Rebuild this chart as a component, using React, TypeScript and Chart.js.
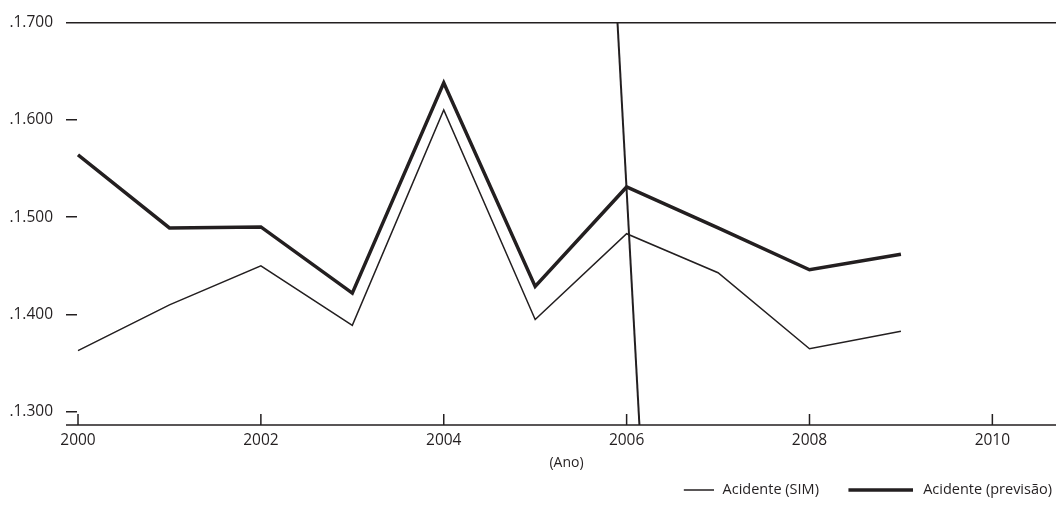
import React, { useEffect, useRef } from "react";
import { Chart, registerables } from "chart.js";

Chart.register(...registerables);

// ---- Data ----
const anos = [2000, 2001, 2002, 2003, 2004, 2005, 2006, 2007, 2008, 2009];
const acidenteSIM = [1.363, 1.410, 1.450, 1.389, 1.610, 1.395, 1.483, 1.443, 1.365, 1.383];
const acidentePrevisao = [1.564, 1.489, 1.490, 1.422, 1.638, 1.429, 1.531, 1.489, 1.446, 1.462];
// slanted reference line (year, value) pairs
const marcoAnos = [2005.9, 2006.14];
const marcoValores = [1.7, 1.2867];

const yTicks = [1.3, 1.4, 1.5, 1.6, 1.7];
const yTickLabels = [".1.300", ".1.400", ".1.500", ".1.600", ".1.700"];
const xTicks = [2000, 2002, 2004, 2006, 2008, 2010];
const xTickLabels = ["2000", "2002", "2004", "2006", "2008", "2010"];
const xTitle = "(Ano)";
const seriesNames = ["Acidente (SIM)", "Acidente (previsão)"];

const INK = "#231f20";

function makeSwatch(width: number, height: number, from: number, lineWidth: number) {
  const c = document.createElement("canvas");
  c.width = width;
  c.height = height;
  const g = c.getContext("2d")!;
  g.strokeStyle = INK;
  g.lineWidth = lineWidth;
  g.beginPath();
  g.moveTo(from, height / 2);
  g.lineTo(width, height / 2);
  g.stroke();
  return c;
}

const axisDecor = {
  id: "axisDecor",
  afterDatasetsDraw(chart: any) {
    const { ctx, chartArea, scales } = chart;
    const xs = scales.x;
    ctx.save();
    ctx.strokeStyle = INK;
    ctx.lineWidth = 1.5;
    ctx.beginPath();
    ctx.moveTo(chartArea.left - 11, chartArea.bottom);
    ctx.lineTo(chartArea.right, chartArea.bottom);
    xs.ticks.forEach((t: any) => {
      const px = xs.getPixelForValue(t.value);
      ctx.moveTo(px, chartArea.bottom);
      ctx.lineTo(px, chartArea.bottom - 11);
    });
    ctx.stroke();
    ctx.restore();
  },
};

export default function App() {
  const ref = useRef<HTMLCanvasElement>(null);

  useEffect(() => {
    if (!ref.current) return;
    Chart.defaults.font.family = "'Open Sans', sans-serif";
    Chart.defaults.color = INK;

    const swatches = [makeSwatch(84, 6, 54, 1.5), makeSwatch(82, 8, 17, 3.5)];

    const chart = new Chart(ref.current, {
      type: "line",
      data: {
        datasets: [
          {
            label: seriesNames[0],
            data: anos.map((a, i) => ({ x: a, y: acidenteSIM[i] })),
            borderColor: INK,
            backgroundColor: INK,
            borderWidth: 1.5,
            pointRadius: 0,
            tension: 0,
          },
          {
            label: seriesNames[1],
            data: anos.map((a, i) => ({ x: a, y: acidentePrevisao[i] })),
            borderColor: INK,
            backgroundColor: INK,
            borderWidth: 3.5,
            pointRadius: 0,
            tension: 0,
          },
          {
            label: "marco",
            data: marcoAnos.map((a, i) => ({ x: a, y: marcoValores[i] })),
            borderColor: INK,
            borderWidth: 2,
            pointRadius: 0,
            tension: 0,
          },
        ],
      },
      options: {
        responsive: false,
        animation: false,
        events: [],
        layout: { padding: { top: 20, left: 0, right: -6, bottom: 9.75 } },
        scales: {
          x: {
            type: "linear",
            min: 1999.989,
            max: 2010.696,
            afterBuildTicks: (s: any) => {
              s.ticks = xTicks.map((v) => ({ value: v }));
            },
            afterFit: (s: any) => {
              s.height = 47.75;
            },
            ticks: {
              padding: 6.7,
              font: { size: 15.5 },
              color: INK,
              maxRotation: 0,
              autoSkip: false,
              callback: (_v: any, i: number) => xTickLabels[i],
            },
            grid: { display: false, drawTicks: false },
            border: { display: false },
            title: {
              display: true,
              text: xTitle,
              color: INK,
              font: { size: 14 },
              padding: { top: 0, bottom: 1.35 },
            },
          },
          y: {
            type: "linear",
            min: 1.2867,
            max: 1.7,
            afterBuildTicks: (s: any) => {
              s.ticks = yTicks.map((v) => ({ value: v }));
            },
            afterFit: (s: any) => {
              s.width = 77;
            },
            ticks: {
              padding: 13,
              font: { size: 15.5 },
              color: INK,
              callback: (_v: any, i: number) => yTickLabels[i],
            },
            grid: {
              drawOnChartArea: true,
              drawTicks: true,
              tickLength: 11,
              tickColor: INK,
              tickWidth: 1.5,
              lineWidth: 1.5,
              color: (c: any) =>
                c.tick && c.tick.value === yTicks[yTicks.length - 1] ? INK : "rgba(0,0,0,0)",
            },
            border: { display: false },
          },
        },
        plugins: {
          title: { display: false },
          tooltip: { enabled: false },
          legend: {
            display: true,
            position: "bottom",
            align: "end",
            labels: {
              usePointStyle: true,
              pointStyleWidth: 87,
              padding: 10,
              color: INK,
              font: { size: 14.5 },
              generateLabels: (ch: any) => {
                const items = (Chart.defaults.plugins.legend.labels as any).generateLabels(ch);
                return items
                  .filter((it: any) => it.datasetIndex < 2)
                  .map((it: any, i: number) => ({ ...it, pointStyle: swatches[i], fontColor: INK }));
              },
            },
          },
        },
      } as any,
      plugins: [axisDecor],
    });
    return () => chart.destroy();
  }, []);

  return (
    <div style={{ position: "absolute", left: 0, top: 0, width: 1056, height: 517, background: "#fff" }}>
      <canvas ref={ref} width={1056} height={517} style={{ display: "block", width: 1056, height: 517 }} />
    </div>
  );
}
